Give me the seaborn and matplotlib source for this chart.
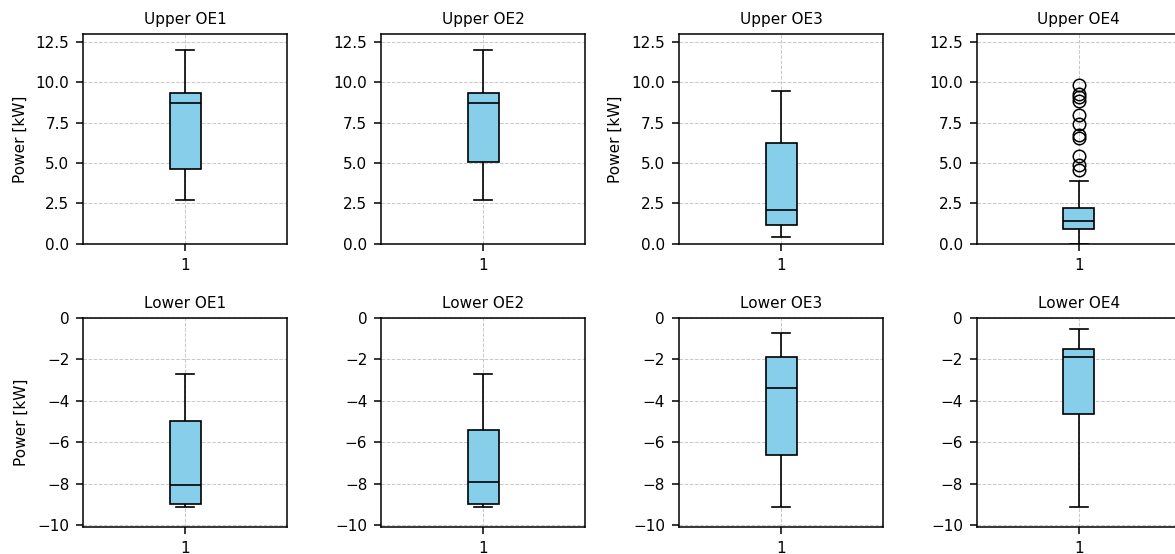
import matplotlib
matplotlib.use("Agg")
import matplotlib.pyplot as plt
from matplotlib.ticker import MultipleLocator
import seaborn as sns

# ---- data ----
titles_upper = ["Upper OE1", "Upper OE2", "Upper OE3", "Upper OE4"]
titles_lower = ["Lower OE1", "Lower OE2", "Lower OE3", "Lower OE4"]

upper_oe1 = [2.72, 4.64, 8.73, 9.34, 11.98]
upper_oe2 = [2.72, 5.05, 8.73, 9.34, 11.98]
upper_oe3 = [0.43, 1.16, 2.08, 6.25, 9.49]
upper_oe4 = [0.00, 0.05, 0.12, 0.20, 0.30, 0.38, 0.46, 0.55, 0.63, 0.72, 0.80, 0.88,
             0.93, 0.97, 1.00, 1.04, 1.08, 1.12, 1.16, 1.20, 1.24, 1.28, 1.32, 1.36,
             1.40, 1.46, 1.52, 1.58, 1.65, 1.72, 1.80, 1.88, 1.96, 2.04, 2.12, 2.18,
             2.23, 3.87,
             4.60, 4.91, 5.46, 6.56, 6.76, 7.44, 8.00, 8.83, 9.10, 9.28, 9.86]

lower_oe1 = [-9.15, -8.98, -8.06, -4.97, -2.74]
lower_oe2 = [-9.15, -8.98, -7.94, -5.40, -2.74]
lower_oe3 = [-9.15, -6.61, -3.39, -1.90, -0.73]
lower_oe4 = [-9.15, -4.65, -1.89, -1.53, -0.53]

upper_data = [upper_oe1, upper_oe2, upper_oe3, upper_oe4]
lower_data = [lower_oe1, lower_oe2, lower_oe3, lower_oe4]
ylabel_text = "Power [kW]"
xtick_label = "1"

plt.rcParams["font.size"] = 11

# ---- figure ----
fig, axes = plt.subplots(2, 4, figsize=(11.75, 5.54), dpi=100)
fig.subplots_adjust(left=0.0709, right=1.005, top=0.9386, bottom=0.0482,
                    wspace=0.46, hspace=0.352)

BOX_W = 0.152
CAP_HALF = 0.045

flier = dict(marker="o", markersize=9, markerfacecolor="none",
             markeredgecolor="black", markeredgewidth=1.1)

def draw(ax, vals, title, ylim, major):
    sns.boxplot(y=vals, ax=ax, width=BOX_W, color="skyblue", saturation=1,
                linecolor="black", linewidth=1.2, flierprops=flier)
    # widen whisker caps a little
    for ln in ax.lines:
        xd, yd = ln.get_xdata(), ln.get_ydata()
        if len(xd) == 2 and yd[0] == yd[1] and 0 < abs(xd[1] - xd[0]) < BOX_W * 0.9:
            c = (xd[0] + xd[1]) / 2
            ln.set_xdata([c - CAP_HALF, c + CAP_HALF])
    ax.set_title(title, fontsize=11, pad=7)
    ax.set_xlim(-0.5, 0.5)
    ax.set_xticks([0])
    ax.set_xticklabels([xtick_label])
    ax.set_xlabel("")
    ax.set_ylabel("")
    ax.set_ylim(*ylim)
    ax.yaxis.set_major_locator(MultipleLocator(major))
    ax.grid(True, linestyle="--", linewidth=0.7, color="#b0b0b0", alpha=0.7)
    ax.set_axisbelow(True)
    for s in ax.spines.values():
        s.set_visible(True)
        s.set_color("black")
        s.set_linewidth(1.1)
    ax.tick_params(colors="black", labelsize=11, length=5, width=1.1, pad=5)

for i in range(4):
    draw(axes[0, i], upper_data[i], titles_upper[i], (0, 13), 2.5)
    draw(axes[1, i], lower_data[i], titles_lower[i], (-10.11, 0), 2)

for ax in (axes[0, 0], axes[1, 0], axes[0, 2]):
    ax.set_ylabel(ylabel_text, fontsize=11, labelpad=6)

fig.savefig("out.png", dpi=100)
